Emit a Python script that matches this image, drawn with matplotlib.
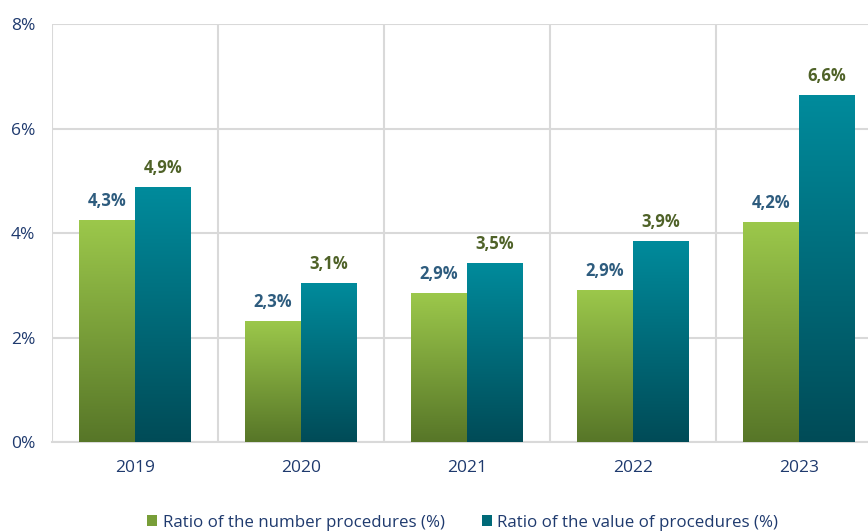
import numpy as np
import matplotlib
matplotlib.use("Agg")
import matplotlib.pyplot as plt
from matplotlib.colors import LinearSegmentedColormap
from matplotlib.patches import Rectangle

plt.rcParams['font.family'] = ['Open Sans', 'DejaVu Sans']

# data
years = ['2019', '2020', '2021', '2022', '2023']
ratio_number = [4.25, 2.32, 2.85, 2.91, 4.21]
ratio_value = [4.88, 3.04, 3.43, 3.85, 6.64]
labels_number = ['4,3%', '2,3%', '2,9%', '2,9%', '4,2%']
labels_value = ['4,9%', '3,1%', '3,5%', '3,9%', '6,6%']
series_names = ['Ratio of the number procedures (%)',
                'Ratio of the value of procedures (%)']

green_cmap = LinearSegmentedColormap.from_list('g', ['#577628', '#9CC84B'])
teal_cmap = LinearSegmentedColormap.from_list('t', ['#004B57', '#008B9C'])
text_navy = '#1F3A6E'
grid_col = '#D9D9D9'

fig = plt.figure(figsize=(8.68, 5.31), dpi=100)
ax = fig.add_axes([0.0599, 0.1676, 0.956, 0.7872])

x = np.arange(len(years))
w = 0.335
grad = np.linspace(0, 1, 256).reshape(-1, 1)


def gradient_bars(xpos, heights, cmap):
    bars = ax.bar(xpos, heights, w, color='none', edgecolor='none', zorder=3)
    for b in bars:
        x0, y0 = b.get_x(), b.get_y()
        im = ax.imshow(grad, cmap=cmap, origin='lower', aspect='auto',
                       extent=(x0, x0 + b.get_width(), y0, y0 + b.get_height()),
                       zorder=3, interpolation='bicubic')
        im.set_clip_path(b)
    return bars


b1 = gradient_bars(x - w / 2, ratio_number, green_cmap)
b2 = gradient_bars(x + w / 2, ratio_value, teal_cmap)

for b, lab in zip(b1, labels_number):
    ax.annotate(lab, (b.get_x() + b.get_width() / 2, b.get_height()),
                xytext=(0, 7), textcoords='offset points', ha='center', va='bottom',
                fontsize=12, fontweight='bold', color='#2E5C7E')
for b, lab in zip(b2, labels_value):
    ax.annotate(lab, (b.get_x() + b.get_width() / 2, b.get_height()),
                xytext=(0, 7), textcoords='offset points', ha='center', va='bottom',
                fontsize=12, fontweight='bold', color='#4F6228')

ax.set_xlim(-0.5, len(years) - 0.5)
ax.set_ylim(0, 8)
ax.set_yticks([0, 2, 4, 6, 8])
ax.set_yticklabels([f'{v}%' for v in [0, 2, 4, 6, 8]])
ax.set_xticks(x)
ax.set_xticklabels(years)
ax.tick_params(length=0, colors=text_navy, labelsize=12.5)
ax.tick_params(axis='x', pad=13)
ax.tick_params(axis='y', pad=12)

ax.yaxis.grid(True, color=grid_col, lw=1.5, zorder=0)
for xv in np.arange(-0.5, len(years), 1.0):
    ax.axvline(xv, color=grid_col, lw=1.5, zorder=0)
for s in ['top', 'right', 'left']:
    ax.spines[s].set_visible(False)
ax.spines['bottom'].set_color(grid_col)
ax.spines['bottom'].set_linewidth(1.5)

handles = [Rectangle((0, 0), 1, 1, facecolor='#789E38'),
           Rectangle((0, 0), 1, 1, facecolor='#006A78')]
leg = fig.legend(handles, series_names, loc='center', bbox_to_anchor=(0.533, 0.016),
                 ncol=2, frameon=False, fontsize=12.2, handlelength=0.6, handleheight=0.6,
                 handletextpad=0.3, columnspacing=2.2)
for t in leg.get_texts():
    t.set_color(text_navy)

fig.savefig('out.png', dpi=100)
